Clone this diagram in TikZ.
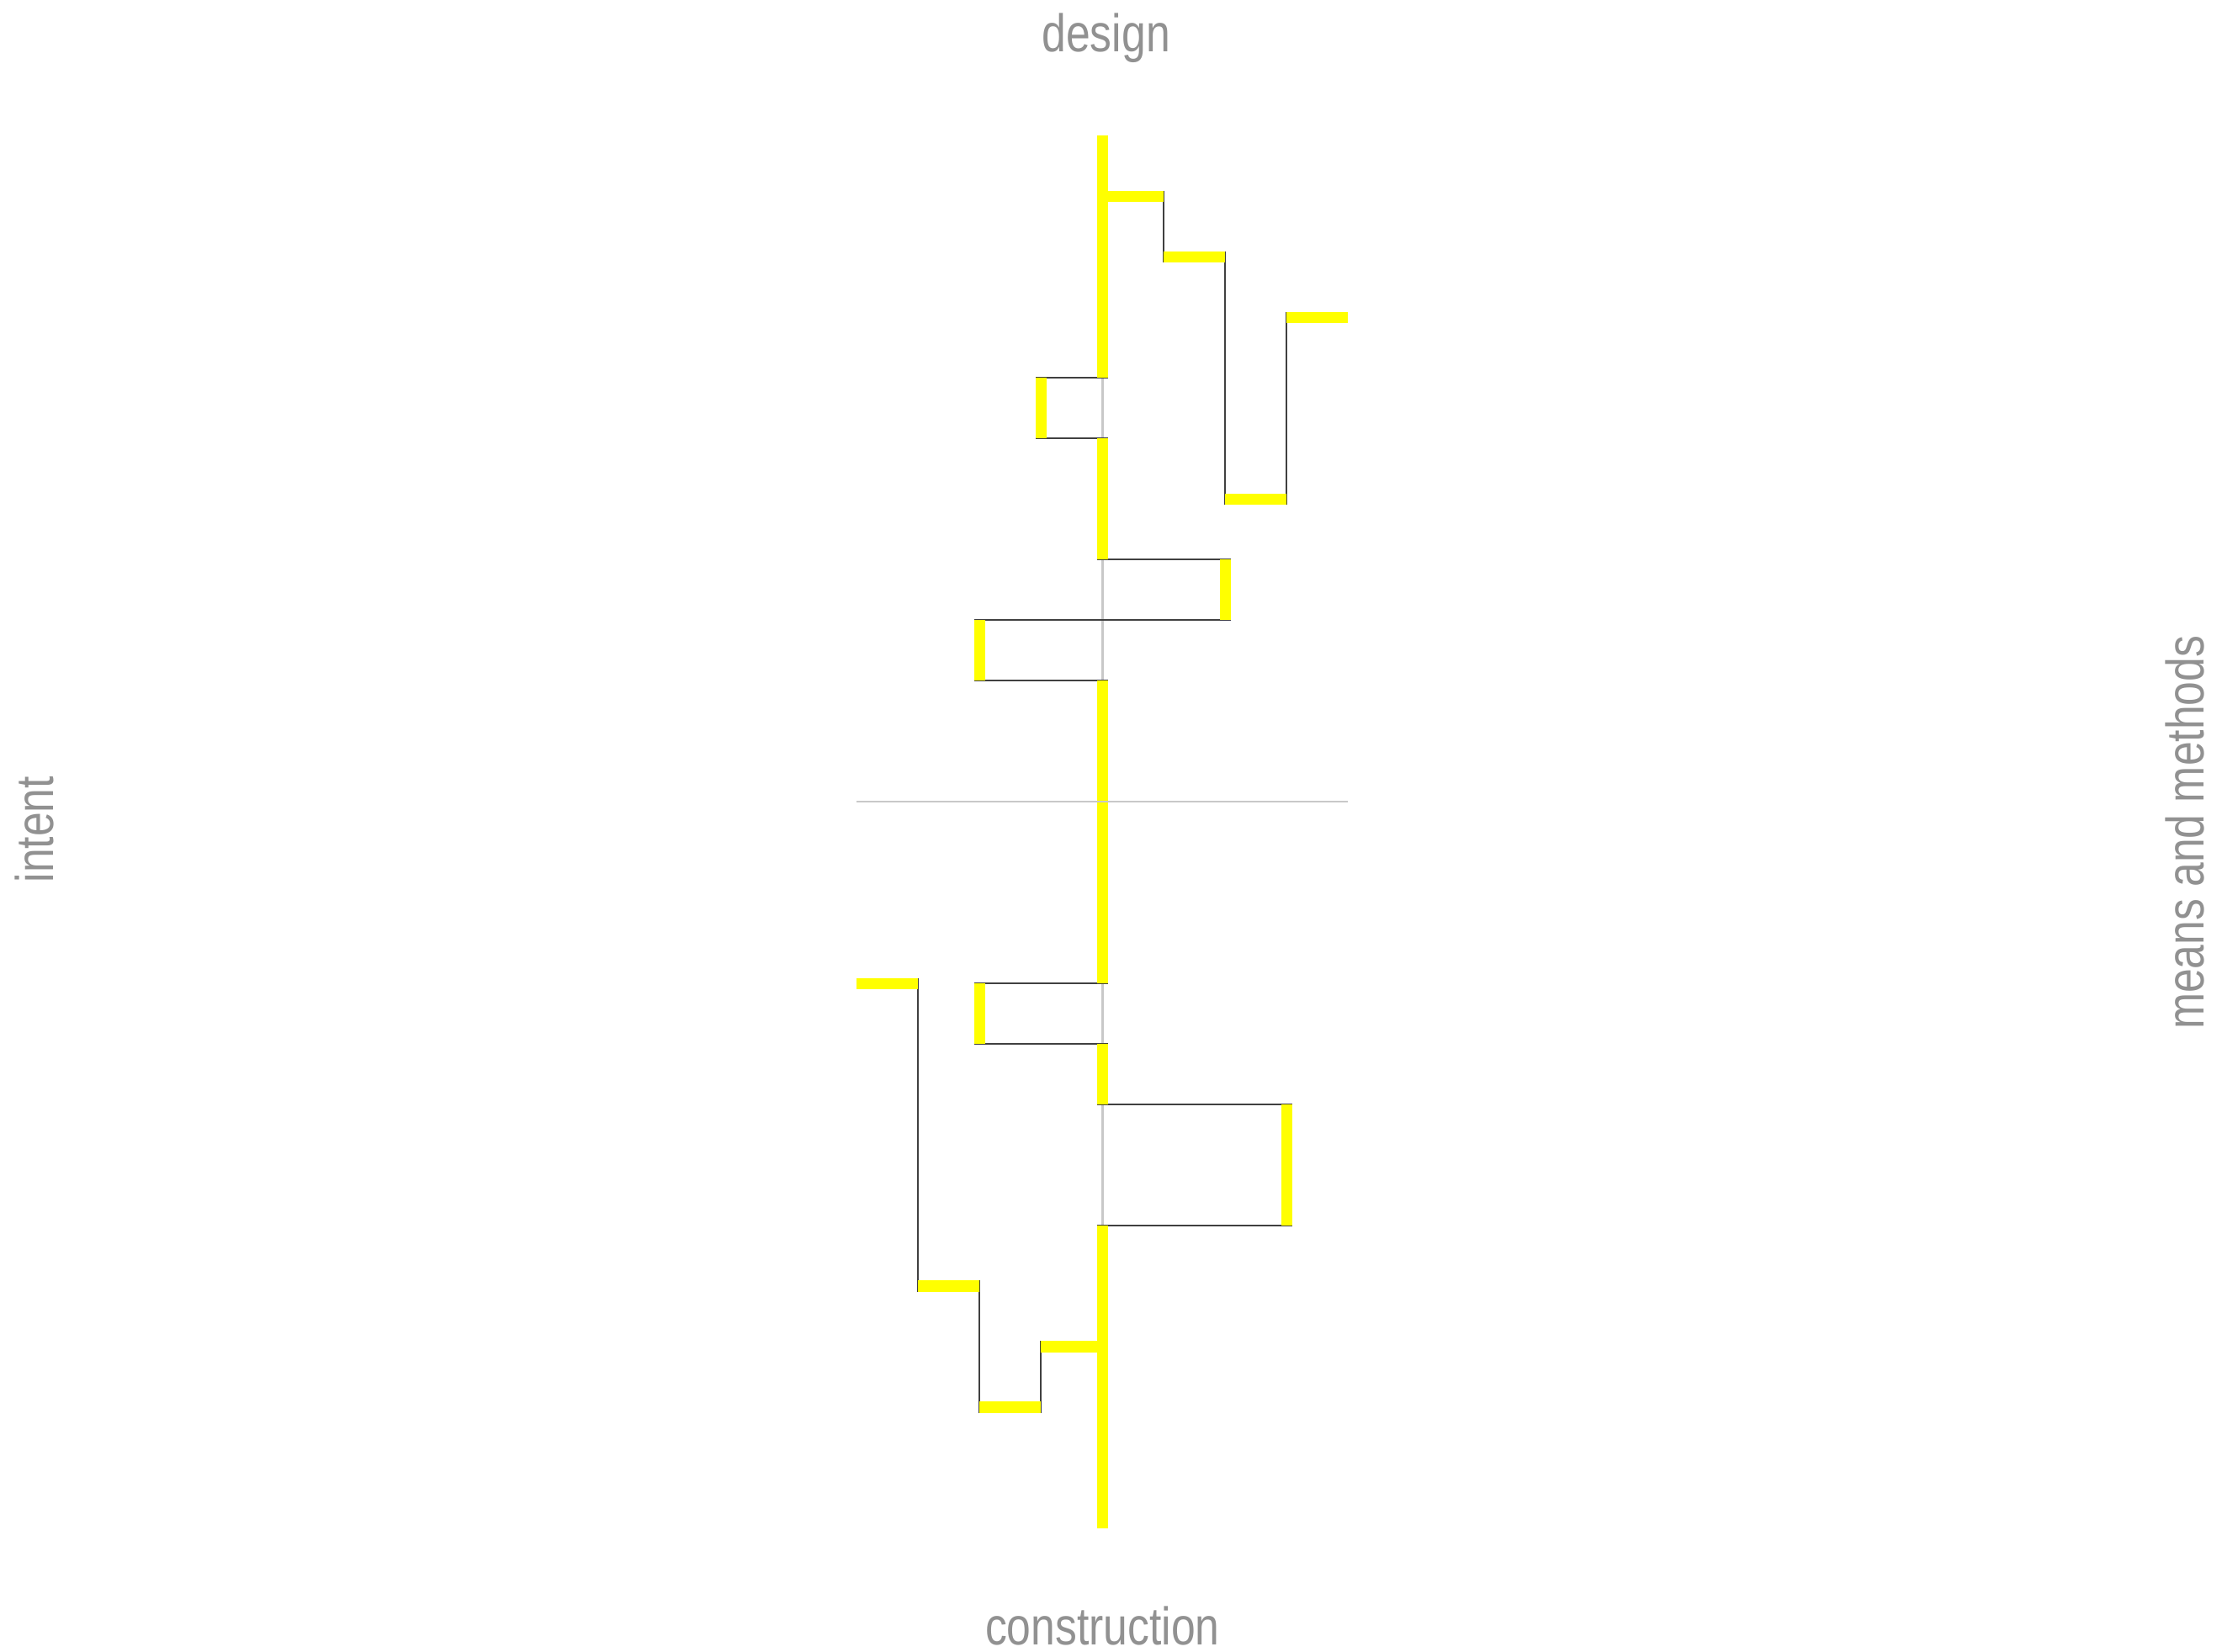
\documentclass[tikz,border=0pt]{standalone}
\usepackage{fontspec}
\setmainfont{Liberation Sans}[FakeStretch=0.82]
\usetikzlibrary{positioning}

\definecolor{axisgray}{RGB}{200,200,200}
\definecolor{labelgray}{RGB}{145,145,145}
\definecolor{pathyellow}{RGB}{255,255,0}
\definecolor{linkgray}{RGB}{64,64,64}

\begin{document}
\begin{tikzpicture}[
    x=0.507cm, y=0.5cm,
    axis/.style={draw=axisgray, line width=0.5pt},
    seg/.style={draw=pathyellow, line width=2.6pt},
    link/.style={draw=linkgray, line width=0.45pt, shorten <=-1.3pt, shorten >=-1.3pt},
    axislabel/.style={font=\fontsize{12.45}{15}\selectfont, text=labelgray, inner sep=0pt},
]
\useasboundingbox (-17.95,-14.04) rectangle (18.23,13.24);

% ================== Axes ==================
\draw[axis] (0,11) -- (0,-12);

% ================== Thin links ==================
% upper branch
\draw[link] (1,10) -- (1,9);
\draw[link] (2,9) -- (2,5);
\draw[link] (3,5) -- (3,8);
% detours off the spine
\draw[link] (0,7) -- (-1,7);
\draw[link] (-1,6) -- (0,6);
\draw[link] (0,4) -- (2,4);
\draw[link] (-2,3) -- (2,3);
\draw[link] (-2,2) -- (0,2);
\draw[link] (0,-3) -- (-2,-3);
\draw[link] (-2,-4) -- (0,-4);
\draw[link] (0,-5) -- (3,-5);
\draw[link] (0,-7) -- (3,-7);
% lower branch
\draw[link] (-1,-9) -- (-1,-10);
\draw[link] (-2,-10) -- (-2,-8);
\draw[link] (-3,-8) -- (-3,-3);

% ================== Yellow path ==================
% spine
\draw[seg] (0,11) -- (0,7);
\draw[seg] (0,6) -- (0,4);
\draw[seg] (0,2) -- (0,-3);
\draw[seg] (0,-4) -- (0,-5);
\draw[seg] (0,-7) -- (0,-12);
% detours
\draw[seg] (-1,7) -- (-1,6);
\draw[seg] (2,4) -- (2,3);
\draw[seg] (-2,3) -- (-2,2);
\draw[seg] (-2,-3) -- (-2,-4);
\draw[seg] (3,-5) -- (3,-7);
% upper steps
\draw[seg] (0,10) -- (1,10);
\draw[seg] (1,9) -- (2,9);
\draw[seg] (2,5) -- (3,5);
\draw[seg] (3,8) -- (4,8);
% lower steps
\draw[seg] (0,-9) -- (-1,-9);
\draw[seg] (-1,-10) -- (-2,-10);
\draw[seg] (-2,-8) -- (-3,-8);
\draw[seg] (-3,-3) -- (-4,-3);

\draw[axis] (-4,0) -- (4,0);

% ================== Labels ==================
\node[axislabel, anchor=base] (design) at (0.06,12.38) {design};
\node[axislabel, anchor=base] (construction) at (0,-13.92) {construction};
\node[axislabel, anchor=base, rotate=90] (intent) at (-17.08,-0.46) {intent};
\node[axislabel, anchor=base, rotate=90] (means) at (17.93,-0.51) {means and methods};

\end{tikzpicture}
\end{document}
